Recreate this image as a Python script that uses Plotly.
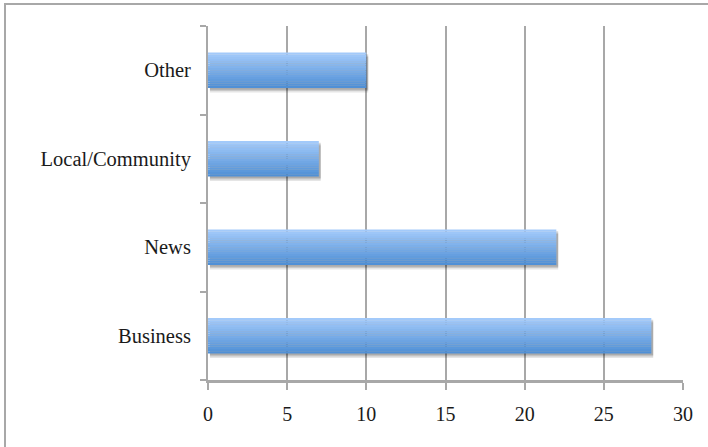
import plotly.graph_objects as go

# Category counts, bottom to top
categories = ["Business", "News", "Local/Community", "Other"]
counts = [28, 22, 7, 10]

x_ticks = [0, 5, 10, 15, 20, 25, 30]

W, H = 708, 447
ML, MR, MT, MB = 208, 25, 26, 67

# Vertical blue gradient built from thin stacked slices of each bar
bar_width = 0.4
n_slices = 16
top_rgb = (163, 202, 250)
bot_rgb = (80, 144, 214)

fig = go.Figure()

# soft drop shadow under each bar
for dy, alpha in [(0.05, 0.10), (0.035, 0.12), (0.02, 0.15)]:
    fig.add_trace(go.Bar(
        y=categories, x=counts, orientation="h",
        width=bar_width, offset=-bar_width / 2 - dy,
        base=[0.12] * len(counts),
        marker=dict(color=f"rgba(0,0,0,{alpha})", line=dict(width=0)),
        hoverinfo="skip", showlegend=False,
    ))

slice_w = bar_width / n_slices
for i in range(n_slices):
    t = i / (n_slices - 1)  # 0 at bottom, 1 at top
    r = round(bot_rgb[0] + (top_rgb[0] - bot_rgb[0]) * t)
    g = round(bot_rgb[1] + (top_rgb[1] - bot_rgb[1]) * t)
    b = round(bot_rgb[2] + (top_rgb[2] - bot_rgb[2]) * t)
    fig.add_trace(go.Bar(
        y=categories, x=counts, orientation="h",
        width=slice_w * 1.05, offset=-bar_width / 2 + i * slice_w,
        marker=dict(color=f"rgb({r},{g},{b})", line=dict(width=0)),
        hoverinfo="skip", showlegend=False,
    ))

font_family = "Liberation Serif"

fig.update_layout(
    width=W, height=H,
    margin=dict(l=ML, r=MR, t=MT, b=MB),
    paper_bgcolor="white", plot_bgcolor="white",
    barmode="overlay",
    font=dict(family=font_family, size=20, color="#1a1a1a"),
    xaxis=dict(
        range=[0, 30], tickvals=x_ticks, ticktext=[str(v) for v in x_ticks],
        showgrid=True, gridcolor="#a8a8a8", gridwidth=2,
        showline=True, linecolor="#a8a8a8", linewidth=3,
        ticks="outside", ticklen=7, tickwidth=2, tickcolor="#a8a8a8",
        ticklabelstandoff=7,
        zeroline=False, fixedrange=True,
    ),
    yaxis=dict(
        showgrid=False,
        showline=True, linecolor="#a8a8a8", linewidth=2,
        ticks="outside", ticklen=6, tickwidth=2, tickcolor="#a8a8a8",
        tickson="boundaries", ticklabelstandoff=11,
        tickfont=dict(size=20.5),
        zeroline=False, fixedrange=True,
    ),
    shapes=[dict(
        type="rect", xref="paper", yref="paper",
        x0=(5 - ML) / (W - ML - MR), x1=(W + 20 - ML) / (W - ML - MR),
        y0=-(H + 20 - (H - MB)) / (H - MT - MB), y1=1 + (MT - 4) / (H - MT - MB),
        line=dict(color="#a8a8a8", width=2), layer="below",
    )],
)

fig.write_html("out.html")
